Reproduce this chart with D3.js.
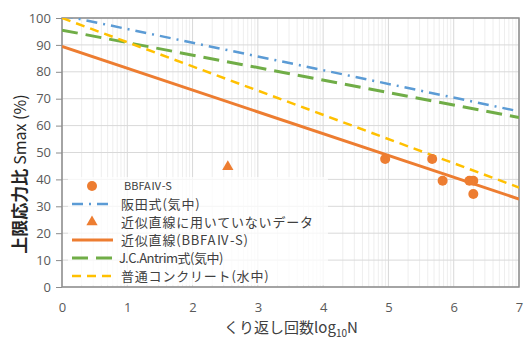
<!DOCTYPE html>
<html><head><meta charset="utf-8">
<script src="https://cdn.jsdelivr.net/npm/d3@7"></script>
<style>body{margin:0;background:#fff}svg{display:block;font-family:"Noto Sans CJK JP","Noto Sans",sans-serif}</style>
</head><body><svg id="c" width="525" height="341"></svg>
<script>
const xTicks=[0,1,2,3,4,5,6,7];
const yTicks=[0,10,20,30,40,50,60,70,80,90,100];
const pointsX=[4.95,5.67,5.83,6.24,6.3,6.3];
const pointsY=[47.6,47.6,39.5,39.5,39.5,34.6];
const triX=[2.54];
const triY=[44.7];
const fitLine=[[0,89.4],[7,32.7]];
const sakataLine=[[0,101],[7,65.3]];
const antrimLine=[[0,95.5],[7,63]];
const normalLine=[[0,100],[7,37]];
const legendLabels=["BBFAⅣ-S","阪田式(気中)","近似直線に用いていないデータ","近似直線(BBFAⅣ-S)","J.C.Antrim式(気中)","普通コンクリート(水中)"];

const svg=d3.select("#c");
const L=62,R=519,T=18,B=287;
const x=d3.scaleLinear().domain([0,7]).range([L,R]);
const y=d3.scaleLinear().domain([0,100]).range([B,T]);

const minor=[];
for(let k=0;k<7;k++)for(let m=2;m<=9;m++)minor.push(k+Math.log10(m));
svg.append("g").selectAll("line").data(minor).join("line")
 .attr("x1",d=>x(d)).attr("x2",d=>x(d)).attr("y1",T).attr("y2",B)
 .attr("stroke","#eeeeee").attr("stroke-width",1);
svg.append("g").selectAll("line").data(xTicks).join("line")
 .attr("x1",d=>x(d)).attr("x2",d=>x(d)).attr("y1",T).attr("y2",B)
 .attr("stroke","#d9d9d9");
svg.append("g").selectAll("line").data(yTicks).join("line")
 .attr("y1",d=>y(d)).attr("y2",d=>y(d)).attr("x1",L).attr("x2",R)
 .attr("stroke","#d9d9d9");

const ya=svg.append("g").attr("transform",`translate(${L},0)`)
 .call(d3.axisLeft(y).tickValues(yTicks).tickSize(6).tickPadding(5));
ya.selectAll("text").attr("font-size",13).attr("fill","#595959").attr("font-family","'Open Sans','Noto Sans',sans-serif");
ya.selectAll("line").attr("stroke","#8c8c8c");
ya.select(".domain").remove();
const xa=svg.append("g").attr("transform",`translate(0,${B})`)
 .call(d3.axisBottom(x).tickValues(xTicks).tickFormat(d3.format("d")).tickSize(0).tickPadding(16));
xa.selectAll("text").attr("font-size",13).attr("fill","#595959").attr("font-family","'Open Sans','Noto Sans',sans-serif");
xa.select(".domain").remove();
svg.append("rect").attr("x",L).attr("y",T).attr("width",R-L).attr("height",B-T)
 .attr("fill","none").attr("stroke","#8c8c8c").attr("stroke-width",1.5);

svg.append("clipPath").attr("id","pc").append("rect").attr("x",L).attr("y",T).attr("width",R-L).attr("height",B-T);
const plot=svg.append("g").attr("clip-path","url(#pc)");
const line=d3.line().x(d=>x(d[0])).y(d=>y(d[1]));
const styles=[
 {d:sakataLine,c:"#5B9BD5",w:2.5,da:"11,6,2,6"},
 {d:antrimLine,c:"#70AD47",w:3,da:"16,8"},
 {d:normalLine,c:"#FFC000",w:2.5,da:"9,6"},
 {d:fitLine,c:"#ED7D31",w:3,da:null}
];
styles.forEach(s=>{
 plot.append("path").attr("d",line(s.d)).attr("fill","none").attr("stroke",s.c)
  .attr("stroke-width",s.w).attr("stroke-dasharray",s.da);
});
plot.selectAll("circle.p").data(pointsX).join("circle").attr("class","p")
 .attr("cx",d=>x(d)).attr("cy",(d,i)=>y(pointsY[i])).attr("r",5).attr("fill","#ED7D31");
plot.selectAll("path.t").data(triX).join("path").attr("class","t")
 .attr("d",d3.symbol(d3.symbolTriangle,55))
 .attr("transform",(d,i)=>`translate(${x(d)},${y(triY[i])})`).attr("fill","#ED7D31");

const lg=svg.append("g");
lg.append("rect").attr("x",68).attr("y",177).attr("width",260).attr("height",108).attr("fill","#fff").attr("opacity",0.75);
const ly=[186,204,222,240,258,276];
lg.append("circle").attr("cx",92).attr("cy",ly[0]).attr("r",5).attr("fill","#ED7D31");
lg.append("line").attr("x1",72).attr("x2",113).attr("y1",ly[1]).attr("y2",ly[1]).attr("stroke","#5B9BD5").attr("stroke-width",2.5).attr("stroke-dasharray","11,6,2,6");
lg.append("path").attr("d",d3.symbol(d3.symbolTriangle,55)).attr("transform",`translate(92,${ly[2]})`).attr("fill","#ED7D31");
lg.append("line").attr("x1",72).attr("x2",113).attr("y1",ly[3]).attr("y2",ly[3]).attr("stroke","#ED7D31").attr("stroke-width",3);
lg.append("line").attr("x1",72).attr("x2",113).attr("y1",ly[4]).attr("y2",ly[4]).attr("stroke","#70AD47").attr("stroke-width",3).attr("stroke-dasharray","16,8");
lg.append("line").attr("x1",72).attr("x2",113).attr("y1",ly[5]).attr("y2",ly[5]).attr("stroke","#FFC000").attr("stroke-width",2.5).attr("stroke-dasharray","9,6");
lg.selectAll("text").data(legendLabels).join("text")
 .attr("x",(d,i)=>i===0?124:(i===4?119:121)).attr("y",(d,i)=>ly[i]).attr("dy","0.36em")
 .attr("font-size",(d,i)=>i===0?11:13).attr("fill","#404040")
 .attr("letter-spacing",(d,i)=>i===4?-0.5:(i===0?0:0.8))
 .text(d=>d);

const yt=svg.append("text").attr("transform","translate(26,174) rotate(-90)")
 .attr("text-anchor","middle").attr("font-size",17).attr("fill","#262626");
yt.append("tspan").attr("font-weight","bold").text("上限応力比 ");
yt.append("tspan").attr("font-size",16).text("Smax (%)");
const xt=svg.append("text").attr("x",291).attr("y",333).attr("text-anchor","middle").attr("font-size",15).attr("fill","#404040");
xt.append("tspan").text("くり返し回数log");
xt.append("tspan").attr("font-size",10).attr("dy",4).text("10");
xt.append("tspan").attr("dy",-4).text("N");
</script></body></html>
